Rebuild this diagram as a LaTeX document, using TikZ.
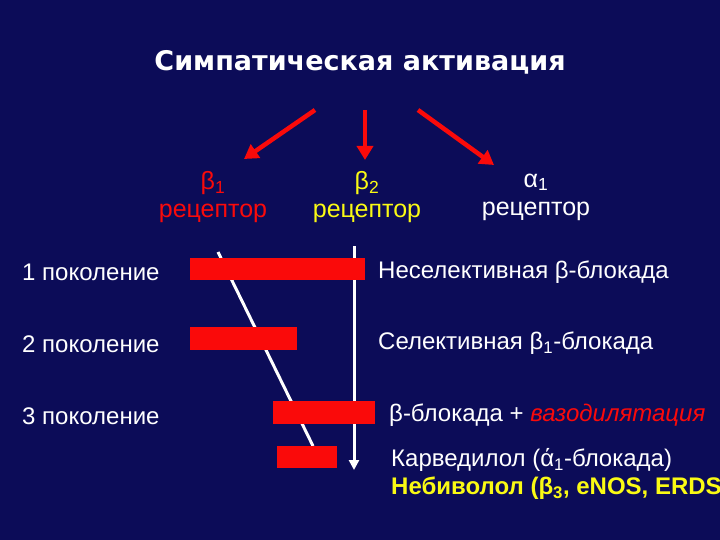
\documentclass[tikz,border=0pt]{standalone}
\usepackage{fontspec}
\setmainfont{Liberation Sans}
\newfontfamily\titlefont{DejaVu Sans}
\usetikzlibrary{arrows.meta}
\definecolor{bg}{RGB}{12,12,88}
\definecolor{myred}{RGB}{250,10,10}
\definecolor{myyellow}{RGB}{250,250,20}
\tikzset{
 txt/.style={font=\fontsize{24}{26}\selectfont, text=white, inner sep=0pt, anchor=west},
 rec/.style={font=\fontsize{25}{28}\selectfont, inner sep=0pt, align=center},
 bar/.style={fill=myred, draw=none},
 redarr/.style={draw=myred, line width=4.5pt, -{Triangle[length=14pt,width=16pt]}},
}
\begin{document}
\begin{tikzpicture}[x=1pt,y=-1pt]
\fill[bg] (0,0) rectangle (720,540);
\clip (0,0) rectangle (720,540);
\useasboundingbox (0,0) rectangle (720,540);
\node[text=white,font=\titlefont\bfseries\fontsize{27}{29}\selectfont] (title) at (360,62) {Симпатическая активация};
\coordinate (a1s) at (315,110); \coordinate (a1e) at (244,159);
\coordinate (a2s) at (365,110); \coordinate (a2e) at (365,160);
\coordinate (a3s) at (418,110); \coordinate (a3e) at (494,165);
\draw[redarr] (a1s) -- (a1e);
\draw[redarr] (a2s) -- (a2e);
\draw[redarr] (a3s) -- (a3e);
\node[rec,text=myred] (r1) at (213,197) {β\textsubscript{1}\\рецептор};
\node[rec,text=myyellow] (r2) at (367,197) {β\textsubscript{2}\\рецептор};
\node[rec,text=white] (r3) at (536,197) {α\textsubscript{1}\\рецептор};
% white lines
\coordinate (d1) at (218,252); \coordinate (d2) at (313,446);
\draw[white, line width=3pt] (d1) -- (d2);
\coordinate (v1) at (354,246); \coordinate (v2) at (354,470);
\draw[white, line width=3pt, -{Triangle[length=10pt,width=10pt]}] (v1) -- (v2);
% bars
\fill[bar] (190,258) rectangle (365,280);
\fill[bar] (190,327) rectangle (297,350);
\fill[bar] (273,401) rectangle (375,424);
\fill[bar] (277,446) rectangle (337,468);
\node[txt] (g1) at (22,272) {1 поколение};
\node[txt] (g2) at (22,344) {2 поколение};
\node[txt] (g3) at (22,416) {3 поколение};
\node[txt] (t1) at (378,272) {Неселективная β-блокада};
\node[txt] (t2) at (378,343) {Селективная β\textsubscript{1}-блокада};
\node[txt] (t3) at (389,415) {β-блокада + \textcolor{myred}{\itshape вазодилятация}};
\node[txt] (t4) at (391,460) {Карведилол (ά\textsubscript{1}-блокада)};
\node[txt,text=myyellow,font=\fontsize{24}{26}\selectfont\bfseries] (t5) at (391,488) {Небиволол (β\textsubscript{3}, eNOS, ERDS};
\end{tikzpicture}
\end{document}
